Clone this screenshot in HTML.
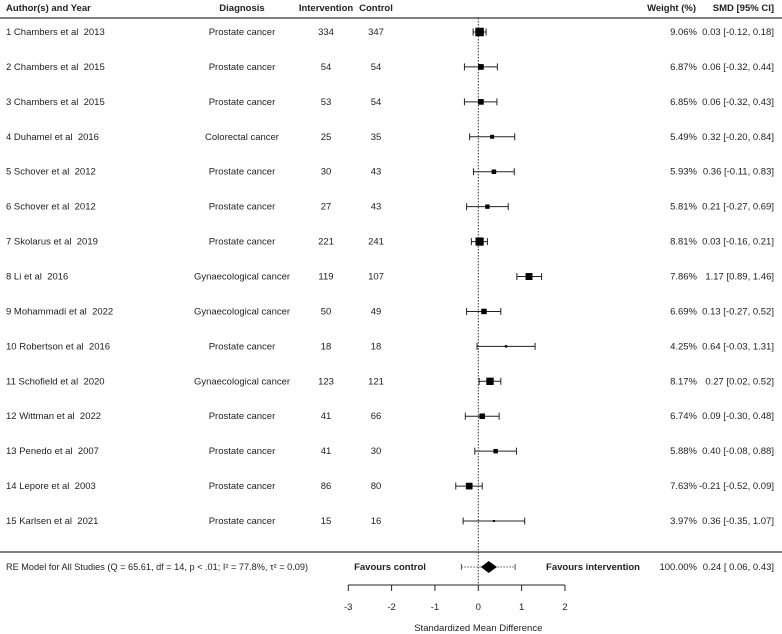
<!DOCTYPE html>
<html><head><meta charset="utf-8"><style>
body{margin:0;background:#fff;}
svg{display:block;font-family:"Liberation Sans",Arial,sans-serif;font-size:9.5px;fill:#222;}
text{white-space:pre;}
</style></head><body>
<svg id="c" width="782" height="634"></svg>
<script>
const authors=["1 Chambers et al  2013","2 Chambers et al  2015","3 Chambers et al  2015","4 Duhamel et al  2016","5 Schover et al  2012","6 Schover et al  2012","7 Skolarus et al  2019","8 Li et al  2016","9 Mohammadi et al  2022","10 Robertson et al  2016","11 Schofield et al  2020","12 Wittman et al  2022","13 Penedo et al  2007","14 Lepore et al  2003","15 Karlsen et al  2021"];
const diagnosis=["Prostate cancer","Prostate cancer","Prostate cancer","Colorectal cancer","Prostate cancer","Prostate cancer","Prostate cancer","Gynaecological cancer","Gynaecological cancer","Prostate cancer","Gynaecological cancer","Prostate cancer","Prostate cancer","Prostate cancer","Prostate cancer"];
const nInt=[334,54,53,25,30,27,221,119,50,18,123,41,41,86,15];
const nCtl=[347,54,54,35,43,43,241,107,49,18,121,66,30,80,16];
const weights=[9.06,6.87,6.85,5.49,5.93,5.81,8.81,7.86,6.69,4.25,8.17,6.74,5.88,7.63,3.97];
const smd=[0.03,0.06,0.06,0.32,0.36,0.21,0.03,1.17,0.13,0.64,0.27,0.09,0.40,-0.21,0.36];
const lo=[-0.12,-0.32,-0.32,-0.20,-0.11,-0.27,-0.16,0.89,-0.27,-0.03,0.02,-0.30,-0.08,-0.52,-0.35];
const hi=[0.18,0.44,0.43,0.84,0.83,0.69,0.21,1.46,0.52,1.31,0.52,0.48,0.88,0.09,1.07];
const summary={est:0.24,lo:0.06,hi:0.43,piLo:-0.39,piHi:0.85};
const ticks=[-3,-2,-1,0,1,2];
const X=v=>478.3+v*43.35;
const Y=i=>32+i*34.93;
const svg=document.getElementById('c');const NS="http://www.w3.org/2000/svg";
function el(t,a,name,txt){const e=document.createElementNS(NS,t);for(const k in a)e.setAttribute(k,a[k]);


if(txt!==undefined)e.textContent=txt;svg.appendChild(e);return e;}
function tx(x,y,s,anchor,name,bold){const a={x:x,y:y,'text-anchor':anchor};if(bold)a['font-weight']='bold';return el('text',a,name,s);}
tx(6,11,"Author(s) and Year","start","header-author",1);
tx(242,11,"Diagnosis","middle","header-diagnosis",1);
tx(326,11,"Intervention","middle","header-intervention",1);
tx(376,11,"Control","middle","header-control",1);
tx(696,11,"Weight (%)","end","header-weight",1);
tx(774,11,"SMD [95% CI]","end","header-smd",1);
el('line',{x1:0,x2:782,y1:18,y2:18,stroke:'#333','stroke-width':1.3},'top-rule');
el('line',{x1:0,x2:782,y1:552,y2:552,stroke:'#333','stroke-width':1.3},'bottom-rule');
el('line',{x1:X(0),x2:X(0),y1:18,y2:584,stroke:'#333','stroke-dasharray':'1.5,1.5'},'zero-line');
const f=v=>(v<0?"-":"")+Math.abs(v).toFixed(2);
for(let i=0;i<authors.length;i++){const y=Y(i);
tx(6,y+3,authors[i],"start","study-label");
tx(242,y+3,diagnosis[i],"middle","diagnosis-label");
tx(326,y+3,nInt[i],"middle","intervention-n");
tx(376,y+3,nCtl[i],"middle","control-n");
tx(697,y+3,weights[i].toFixed(2)+"%","end","weight-value");
tx(774,y+3,(smd[i]<0?"":" ")+f(smd[i])+" ["+f(lo[i])+", "+f(hi[i])+"]","end","smd-ci-value");
el('line',{x1:X(lo[i]),x2:X(hi[i]),y1:y,y2:y,stroke:'#222'},'ci-line');
el('line',{x1:X(lo[i]),x2:X(lo[i]),y1:y-3.5,y2:y+3.5,stroke:'#222'},'ci-cap-low');
el('line',{x1:X(hi[i]),x2:X(hi[i]),y1:y-3.5,y2:y+3.5,stroke:'#222'},'ci-cap-high');
const s=2+(weights[i]-3.97)/(9.06-3.97)*6.5;
el('rect',{x:X(smd[i])-s/2,y:y-s/2,width:s,height:s,fill:'#000'},'study-point');}
const sy=567;
el('text',{x:6,y:sy+3,'text-anchor':'start','font-size':'9px',textLength:302,lengthAdjust:'spacingAndGlyphs'},'summary-label',"RE Model for All Studies (Q = 65.61, df = 14, p < .01; I² = 77.8%, τ² = 0.09)");
tx(390,sy+3,"Favours control","middle","favours-control",1);
tx(593,sy+3,"Favours intervention","middle","favours-intervention",1);
el('line',{x1:X(summary.piLo),x2:X(summary.piHi),y1:sy,y2:sy,stroke:'#555','stroke-dasharray':'1.5,1.5'},'prediction-interval');
el('line',{x1:X(summary.piLo),x2:X(summary.piLo),y1:sy-3,y2:sy+3,stroke:'#555'},'pi-cap-low');
el('line',{x1:X(summary.piHi),x2:X(summary.piHi),y1:sy-3,y2:sy+3,stroke:'#555'},'pi-cap-high');
el('polygon',{points:`${X(summary.lo)},${sy} ${X(summary.est)},${sy-6} ${X(summary.hi)},${sy} ${X(summary.est)},${sy+6}`,fill:'#000'},'summary-diamond');
tx(697,sy+3,"100.00%","end","summary-weight");
tx(774,sy+3,f(summary.est)+" [ "+f(summary.lo)+", "+f(summary.hi)+"]","end","summary-smd");
el('line',{x1:X(ticks[0]),x2:X(ticks[ticks.length-1]),y1:585,y2:585,stroke:'#222'},'x-axis');
for(const t of ticks){el('line',{x1:X(t),x2:X(t),y1:585,y2:591,stroke:'#222'},'x-tick');
tx(X(t),610,t,"middle","x-tick-label");}
tx(X(0),631,"Standardized Mean Difference","middle","x-axis-title");
</script>
</body></html>
